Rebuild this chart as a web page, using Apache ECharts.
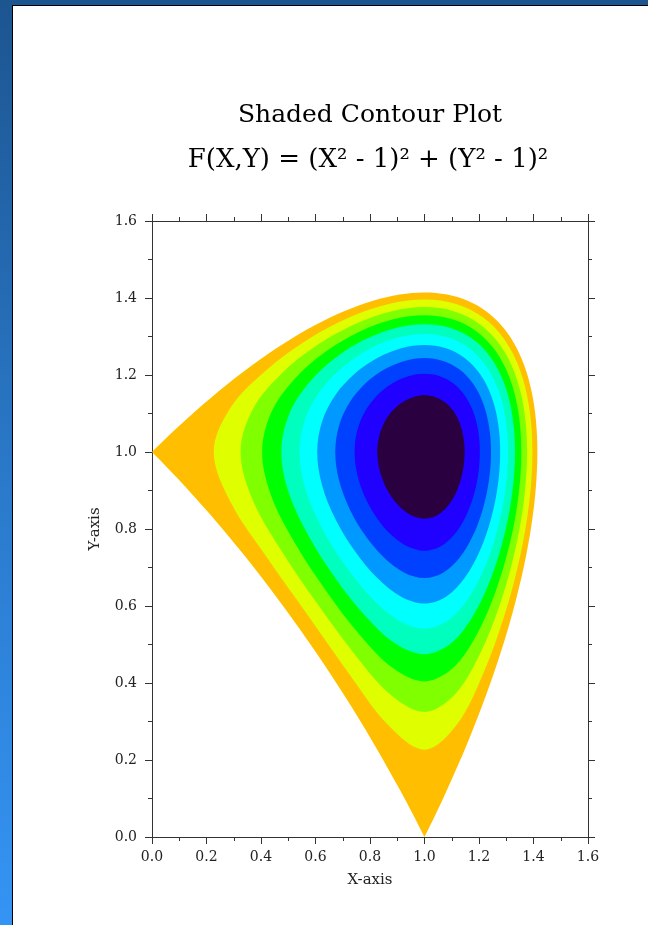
<!DOCTYPE html>
<html><head><meta charset="utf-8">
<script src="https://cdn.jsdelivr.net/npm/echarts@6/dist/echarts.min.js"></script>
<style>
html,body{margin:0;padding:0;width:648px;height:925px;overflow:hidden;background:linear-gradient(to bottom,#1c5590 0%,#2a78c8 50%,#3494f4 100%);}
#panel{position:absolute;left:12px;top:5px;width:636px;height:920px;background:#fff;border-left:1px solid #000;border-top:1px solid #000;box-sizing:border-box;}
#chart{position:absolute;left:0;top:0;width:648px;height:925px;}
</style></head><body><div id="panel"></div><div id="chart"></div>
<script>
const titleText = 'Shaded Contour Plot';
const formulaText = 'F(X,Y) = (X² - 1)² + (Y² - 1)²';
const xName = 'X-axis';
const yName = 'Y-axis';
const tickLabels = ['0.0','0.2','0.4','0.6','0.8','1.0','1.2','1.4','1.6'];
const levels = [1.0, 0.9, 0.8, 0.7, 0.6, 0.5, 0.4, 0.3, 0.2, 0.1];
const bandColors = ['#FFBF00','#DFFF00','#80FF00','#00FF00','#00FFBF','#00FFFF','#0099FF','#0040FF','#2000FF','#2A0040'];

const contour100 = [[1.4142,1.0],[1.4088,1.0833],[1.3927,1.1585],[1.3660,1.2247],[1.3289,1.2817],[1.2817,1.3289],[1.2247,1.3660],[1.1585,1.3927],[1.0833,1.4088],[1.0,1.4142],[0.9091,1.4088],[0.8112,1.3927],[0.7071,1.3660],[0.5977,1.3289],[0.4837,1.2817],[0.3661,1.2247],[0.2456,1.1585],[0.1233,1.0833],[0.0616,1.0427],[0.0,1.0],[0.0616,0.9554],[0.1233,0.9091],[0.2456,0.8112],[0.3661,0.7071],[0.4837,0.5977],[0.5977,0.4837],[0.7071,0.3661],[0.8112,0.2456],[0.9091,0.1233],[0.9554,0.0616],[1.0,0.0],[1.0427,0.0616],[1.0833,0.1233],[1.1585,0.2456],[1.2247,0.3661],[1.2817,0.4837],[1.3289,0.5977],[1.3660,0.7071],[1.3927,0.8112],[1.4088,0.9091]];
const contour090 = [[1.3960,1],[1.3843,1.1160],[1.3497,1.2142],[1.2926,1.2926],[1.2142,1.3497],[1.1160,1.3843],[1,1.3960],[0.8686,1.3843],[0.7251,1.3497],[0.5738,1.2926],[0.4224,1.2142],[0.2893,1.1160],[0.2265,1],[0.2893,0.8686],[0.4224,0.7251],[0.5738,0.5738],[0.7251,0.4224],[0.8686,0.2893],[1,0.2265],[1.1160,0.2893],[1.2142,0.4224],[1.2926,0.5738],[1.3497,0.7251],[1.3843,0.8686]];
const contour080 = [[1.3764,1],[1.3652,1.1097],[1.3321,1.2030],[1.2777,1.2777],[1.2030,1.3321],[1.1097,1.3652],[1,1.3764],[0.8766,1.3652],[0.7435,1.3321],[0.6062,1.2777],[0.4748,1.2030],[0.3689,1.1097],[0.3250,1],[0.3689,0.8766],[0.4748,0.7435],[0.6062,0.6062],[0.7435,0.4748],[0.8766,0.3689],[1,0.3250],[1.1097,0.3689],[1.2030,0.4748],[1.2777,0.6062],[1.3321,0.7435],[1.3652,0.8766]];
const contour070 = [[1.3553,1],[1.3447,1.1030],[1.3132,1.1909],[1.2616,1.2616],[1.1909,1.3132],[1.1030,1.3447],[1,1.3553],[0.8852,1.3447],[0.7627,1.3132],[0.6391,1.2616],[0.5248,1.1909],[0.4380,1.1030],[0.4041,1],[0.4380,0.8852],[0.5248,0.7627],[0.6391,0.6391],[0.7627,0.5248],[0.8852,0.4380],[1,0.4041],[1.1030,0.4380],[1.1909,0.5248],[1.2616,0.6391],[1.3132,0.7627],[1.3447,0.8852]];
const contour060 = [[1.3321,1],[1.3222,1.0957],[1.2926,1.1778],[1.2441,1.2441],[1.1778,1.2926],[1.0957,1.3222],[1,1.3321],[0.8941,1.3222],[0.7828,1.2926],[0.6725,1.2441],[0.5738,1.1778],[0.5018,1.0957],[0.4748,1],[0.5018,0.8941],[0.5738,0.7828],[0.6725,0.6725],[0.7828,0.5738],[0.8941,0.5018],[1,0.4748],[1.0957,0.5018],[1.1778,0.5738],[1.2441,0.6725],[1.2926,0.7828],[1.3222,0.8941]];
const contour050 = [[1.3066,1],[1.2973,1.0877],[1.2698,1.1634],[1.2247,1.2247],[1.1634,1.2698],[1.0877,1.2973],[1,1.3066],[0.9039,1.2973],[0.8040,1.2698],[0.7071,1.2247],[0.6226,1.1634],[0.5630,1.0877],[0.5412,1],[0.5630,0.9039],[0.6226,0.8040],[0.7071,0.7071],[0.8040,0.6226],[0.9039,0.5630],[1,0.5412],[1.0877,0.5630],[1.1634,0.6226],[1.2247,0.7071],[1.2698,0.8040],[1.2973,0.9039]];
const contour040 = [[1.2777,1],[1.2692,1.0788],[1.2441,1.1473],[1.2030,1.2030],[1.1473,1.2441],[1.0788,1.2692],[1,1.2777],[0.9145,1.2692],[0.8269,1.2441],[0.7435,1.2030],[0.6725,1.1473],[0.6238,1.0788],[0.6062,1],[0.6238,0.9145],[0.6725,0.8269],[0.7435,0.7435],[0.8269,0.6725],[0.9145,0.6238],[1,0.6062],[1.0788,0.6238],[1.1473,0.6725],[1.2030,0.7435],[1.2441,0.8269],[1.2692,0.9145]];
const contour030 = [[1.2441,1],[1.2365,1.0685],[1.2142,1.1287],[1.1778,1.1778],[1.1287,1.2142],[1.0685,1.2365],[1,1.2441],[0.9264,1.2365],[0.8521,1.2142],[0.7828,1.1778],[0.7251,1.1287],[0.6863,1.0685],[0.6725,1],[0.6863,0.9264],[0.7251,0.8521],[0.7828,0.7828],[0.8521,0.7251],[0.9264,0.6863],[1,0.6725],[1.0685,0.6863],[1.1287,0.7251],[1.1778,0.7828],[1.2142,0.8521],[1.2365,0.9264]];
const contour020 = [[1.2030,1],[1.1967,1.0563],[1.1778,1.1062],[1.1473,1.1473],[1.1062,1.1778],[1.0563,1.1967],[1,1.2030],[0.9404,1.1967],[0.8811,1.1778],[0.8269,1.1473],[0.7828,1.1062],[0.7537,1.0563],[0.7435,1],[0.7537,0.9404],[0.7828,0.8811],[0.8269,0.8269],[0.8811,0.7828],[0.9404,0.7537],[1,0.7435],[1.0563,0.7537],[1.1062,0.7828],[1.1473,0.8269],[1.1778,0.8811],[1.1967,0.9404]];
const contour010 = [[1.1473,1],[1.1425,1.0401],[1.1286,1.0762],[1.1062,1.1062],[1.0762,1.1286],[1.0401,1.1425],[1,1.1473],[0.9582,1.1425],[0.9175,1.1286],[0.8811,1.1062],[0.8522,1.0762],[0.8334,1.0401],[0.8269,1],[0.8334,0.9582],[0.8522,0.9175],[0.8811,0.8811],[0.9175,0.8522],[0.9582,0.8334],[1,0.8269],[1.0401,0.8334],[1.0762,0.8522],[1.1062,0.8811],[1.1286,0.9175],[1.1425,0.9582]];

const contours = [contour100, contour090, contour080, contour070, contour060, contour050, contour040, contour030, contour020, contour010];

const FONT = '"DejaVu Serif", "Liberation Serif", serif';
const AX = '#333';
const fmt = v => tickLabels[Math.round(v / 0.2)] || '';

function axisBase(pos, showLabel, isX) {
  return {
    type: 'value', position: pos, min: 0, max: 1.6, interval: 0.2,
    axisLine: { show: true, onZero: false, lineStyle: { color: AX, width: 1 } },
    axisTick: { show: true, inside: false, length: 7, lineStyle: { color: AX, width: 1 } },
    minorTick: { show: true, splitNumber: 2, length: 4, lineStyle: { color: AX, width: 1 } },
    splitLine: { show: false }, minorSplitLine: { show: false },
    axisLabel: { show: showLabel, formatter: fmt, fontFamily: FONT, fontSize: 14, color: '#222', margin: isX ? 13 : 15 }
  };
}

// smooth closed path through the contour points (corners kept sharp where the contour meets an axis)
function smoothPath(dataPts, px, rect) {
  const n = px.length, s = 0.34;
  const cin = [], cout = [];
  const clamp = p => [Math.min(Math.max(p[0], rect.x), rect.x + rect.width), Math.min(Math.max(p[1], rect.y), rect.y + rect.height)];
  for (let i = 0; i < n; i++) {
    const p = px[i], a = px[(i - 1 + n) % n], b = px[(i + 1) % n];
    const corner = dataPts[i][0] === 0 || dataPts[i][1] === 0;
    if (corner) {
      cout[i] = [p[0] + (b[0] - p[0]) * 0.3, p[1] + (b[1] - p[1]) * 0.3];
      cin[i] = [p[0] + (a[0] - p[0]) * 0.3, p[1] + (a[1] - p[1]) * 0.3];
    } else {
      const vx = (b[0] - a[0]) * s, vy = (b[1] - a[1]) * s;
      let d0 = Math.hypot(p[0] - a[0], p[1] - a[1]), d1 = Math.hypot(p[0] - b[0], p[1] - b[1]);
      const sum = d0 + d1; d0 /= sum; d1 /= sum;
      cin[i] = clamp([p[0] - vx * d0, p[1] - vy * d0]);
      cout[i] = clamp([p[0] + vx * d1, p[1] + vy * d1]);
    }
  }
  let d = 'M' + px[0][0].toFixed(2) + ' ' + px[0][1].toFixed(2);
  for (let i = 0; i < n; i++) {
    const j = (i + 1) % n;
    d += ' C' + cout[i][0].toFixed(2) + ' ' + cout[i][1].toFixed(2) + ' ' + cin[j][0].toFixed(2) + ' ' + cin[j][1].toFixed(2) + ' ' + px[j][0].toFixed(2) + ' ' + px[j][1].toFixed(2);
  }
  return d + ' Z';
}

const chart = echarts.init(document.getElementById('chart'), null, { renderer: 'canvas' });
const xBottom = Object.assign(axisBase('bottom', true, true), {
  name: xName, nameLocation: 'middle', nameGap: 43,
  nameTextStyle: { fontFamily: FONT, fontSize: 15, color: '#222', verticalAlign: 'middle' }
});
const yLeft = Object.assign(axisBase('left', true, false), {
  name: yName, nameLocation: 'middle', nameGap: 57, nameRotate: 90,
  nameTextStyle: { fontFamily: FONT, fontSize: 15, color: '#222', verticalAlign: 'middle' }
});
chart.setOption({
  animation: false,
  grid: { left: 152, top: 221, right: 60, bottom: 88, containLabel: false, outerBoundsMode: 'none' },
  xAxis: [xBottom, axisBase('top', false, true)],
  yAxis: [yLeft, axisBase('right', false, false)],
  graphic: [
    { type: 'text', x: 370, y: 115, style: { text: titleText, fill: '#000', font: '25px ' + FONT, align: 'center', verticalAlign: 'middle' } },
    { type: 'text', x: 368, y: 160, style: { text: formulaText, fill: '#000', font: '26px ' + FONT, align: 'center', verticalAlign: 'middle' } }
  ],
  series: [{
    type: 'custom',
    coordinateSystem: 'cartesian2d',
    xAxisIndex: 0, yAxisIndex: 0,
    data: levels.map(l => [1, 1, l]),
    encode: { x: 0, y: 1 },
    renderItem: function (params, api) {
      const i = params.dataIndex;
      const px = contours[i].map(p => api.coord(p));
      const rect = params.coordSys;
      return {
        type: 'path',
        shape: { pathData: smoothPath(contours[i], px, rect) },
        style: { fill: bandColors[i], stroke: null }
      };
    }
  }]
});
</script></body></html>
